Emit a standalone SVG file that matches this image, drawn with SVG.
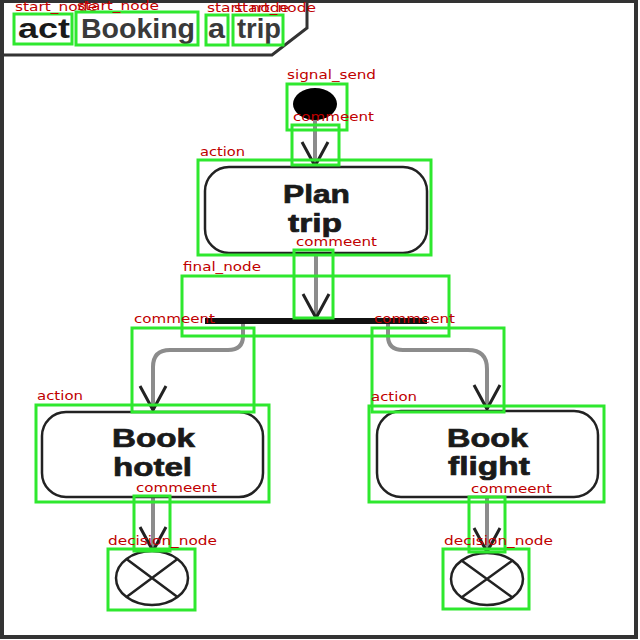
<svg xmlns="http://www.w3.org/2000/svg" width="640" height="640" viewBox="0 0 640 640">
<defs>
<style>
.frame{fill:#fff;stroke:#333;stroke-width:4}
.hdr{fill:none;stroke:#333;stroke-width:3}
.ht{font-family:"Liberation Sans",Arial,sans-serif;font-size:27px;font-weight:bold;fill:#3a3a3a}
.act{fill:#fff;stroke:#222;stroke-width:2.5}
.nt{font-family:"Liberation Sans",Arial,sans-serif;font-size:25px;font-weight:bold;fill:#1a1a1a;stroke:#1a1a1a;stroke-width:0.7}
.flow{fill:none;stroke:#8c8c8c;stroke-width:4}
.dec{fill:#fff;stroke:#222;stroke-width:2.5}
.ann{fill:none;stroke:#2ee82e;stroke-width:3}
.lab{font-family:"DejaVu Sans",sans-serif;font-size:12px;fill:#c00000}
</style>
<marker id="vee" markerUnits="userSpaceOnUse" markerWidth="40" markerHeight="40" viewBox="-30 -20 40 40" refX="0" refY="0" orient="auto">
<path d="M-24,-13 L0,0 L-24,13" fill="none" stroke="#222" stroke-width="3"/>
</marker>
</defs>
<rect x="2" y="1" width="634" height="636" class="frame"/>
<polyline class="hdr" points="2,55 272,55 307,28 307,1"/>
<g id="header">
<text class="ht" x="18" y="38" fill="#1a1a1a" style="fill:#1a1a1a" textLength="52" lengthAdjust="spacingAndGlyphs">act</text>
<text class="ht" x="81" y="38" textLength="114" lengthAdjust="spacingAndGlyphs">Booking</text>
<text class="ht" x="208" y="38" textLength="17" lengthAdjust="spacingAndGlyphs">a</text>
<text class="ht" x="237" y="38" textLength="44" lengthAdjust="spacingAndGlyphs">trip</text>
</g>
<g id="connectors">
<path class="flow" d="M315,118 L315,166" marker-end="url(#vee)"/>
<path class="flow" d="M316,253 L316,318" marker-end="url(#vee)"/>
<path class="flow" d="M243,324 L243,336 Q243,350 228,350 L170,350 Q153,350 153,367 L153,410" marker-end="url(#vee)"/>
<path class="flow" d="M388,324 L388,336 Q388,350 403,350 L468,350 Q487,350 487,369 L487,409" marker-end="url(#vee)"/>
<path class="flow" d="M153,497 L153,551" marker-end="url(#vee)"/>
<path class="flow" d="M487,497 L487,552" marker-end="url(#vee)"/>
</g>
<g id="start">
<ellipse cx="315" cy="104" rx="22" ry="16" fill="#000"/>
</g>
<g id="plan_trip">
<rect class="act" x="205" y="167" width="222" height="86" rx="24"/>
<text class="nt" x="283" y="203" textLength="67" lengthAdjust="spacingAndGlyphs">Plan</text>
<text class="nt" x="288" y="232" textLength="54" lengthAdjust="spacingAndGlyphs">trip</text>
</g>
<g id="fork">
<rect x="205" y="318" width="222" height="6" fill="#111"/>
</g>
<g id="book_hotel">
<rect class="act" x="42" y="412" width="221" height="85" rx="24"/>
<text class="nt" x="112" y="447" textLength="83" lengthAdjust="spacingAndGlyphs">Book</text>
<text class="nt" x="113" y="476" textLength="79" lengthAdjust="spacingAndGlyphs">hotel</text>
</g>
<g id="book_flight">
<rect class="act" x="377" y="411" width="221" height="86" rx="24"/>
<text class="nt" x="447" y="447" textLength="81" lengthAdjust="spacingAndGlyphs">Book</text>
<text class="nt" x="448" y="475" textLength="82" lengthAdjust="spacingAndGlyphs">flight</text>
</g>
<g id="decision_hotel">
<ellipse class="dec" cx="152" cy="578" rx="36" ry="27"/>
<path d="M126.5,559 L177.5,597 M177.5,559 L126.5,597" stroke="#222" stroke-width="2.5"/>
</g>
<g id="decision_flight">
<ellipse class="dec" cx="487" cy="579" rx="36" ry="26"/>
<path d="M461.5,560.5 L512.5,597.5 M512.5,560.5 L461.5,597.5" stroke="#222" stroke-width="2.5"/>
</g>
<g id="annotations">
<rect class="ann" x="14" y="14" width="58" height="30"/>
<text class="lab" x="15" y="11" textLength="82" lengthAdjust="spacingAndGlyphs">start_node</text>
<rect class="ann" x="76" y="12" width="122" height="33"/>
<text class="lab" x="77" y="10" textLength="82" lengthAdjust="spacingAndGlyphs">start_node</text>
<rect class="ann" x="206" y="15" width="22" height="30"/>
<text class="lab" x="207" y="12" textLength="82" lengthAdjust="spacingAndGlyphs">start_node</text>
<rect class="ann" x="233" y="15" width="50" height="30"/>
<text class="lab" x="234" y="12" textLength="82" lengthAdjust="spacingAndGlyphs">start_node</text>
<rect class="ann" x="287" y="84" width="60" height="46"/>
<text class="lab" x="287" y="79" textLength="89" lengthAdjust="spacingAndGlyphs">signal_send</text>
<rect class="ann" x="292" y="125" width="47" height="40"/>
<text class="lab" x="293" y="121" textLength="81" lengthAdjust="spacingAndGlyphs">commeent</text>
<rect class="ann" x="198" y="160" width="233" height="95"/>
<text class="lab" x="200" y="156" textLength="45" lengthAdjust="spacingAndGlyphs">action</text>
<rect class="ann" x="294" y="250" width="39" height="68"/>
<text class="lab" x="296" y="246" textLength="81" lengthAdjust="spacingAndGlyphs">commeent</text>
<rect class="ann" x="182" y="276" width="267" height="60"/>
<text class="lab" x="183" y="271" textLength="78" lengthAdjust="spacingAndGlyphs">final_node</text>
<rect class="ann" x="132" y="328" width="122" height="84"/>
<text class="lab" x="134" y="323" textLength="81" lengthAdjust="spacingAndGlyphs">commeent</text>
<rect class="ann" x="372" y="328" width="132" height="84"/>
<text class="lab" x="374" y="323" textLength="81" lengthAdjust="spacingAndGlyphs">commeent</text>
<rect class="ann" x="36" y="405" width="233" height="97"/>
<text class="lab" x="37" y="400" textLength="46" lengthAdjust="spacingAndGlyphs">action</text>
<rect class="ann" x="369" y="406" width="235" height="96"/>
<text class="lab" x="371" y="401" textLength="46" lengthAdjust="spacingAndGlyphs">action</text>
<rect class="ann" x="134" y="496" width="36" height="55"/>
<text class="lab" x="136" y="492" textLength="81" lengthAdjust="spacingAndGlyphs">commeent</text>
<rect class="ann" x="469" y="497" width="36" height="55"/>
<text class="lab" x="471" y="493" textLength="81" lengthAdjust="spacingAndGlyphs">commeent</text>
<rect class="ann" x="108" y="549" width="87" height="61"/>
<text class="lab" x="108" y="545" textLength="109" lengthAdjust="spacingAndGlyphs">decision_node</text>
<rect class="ann" x="443" y="549" width="86" height="60"/>
<text class="lab" x="444" y="545" textLength="109" lengthAdjust="spacingAndGlyphs">decision_node</text>
</g>
</svg>
